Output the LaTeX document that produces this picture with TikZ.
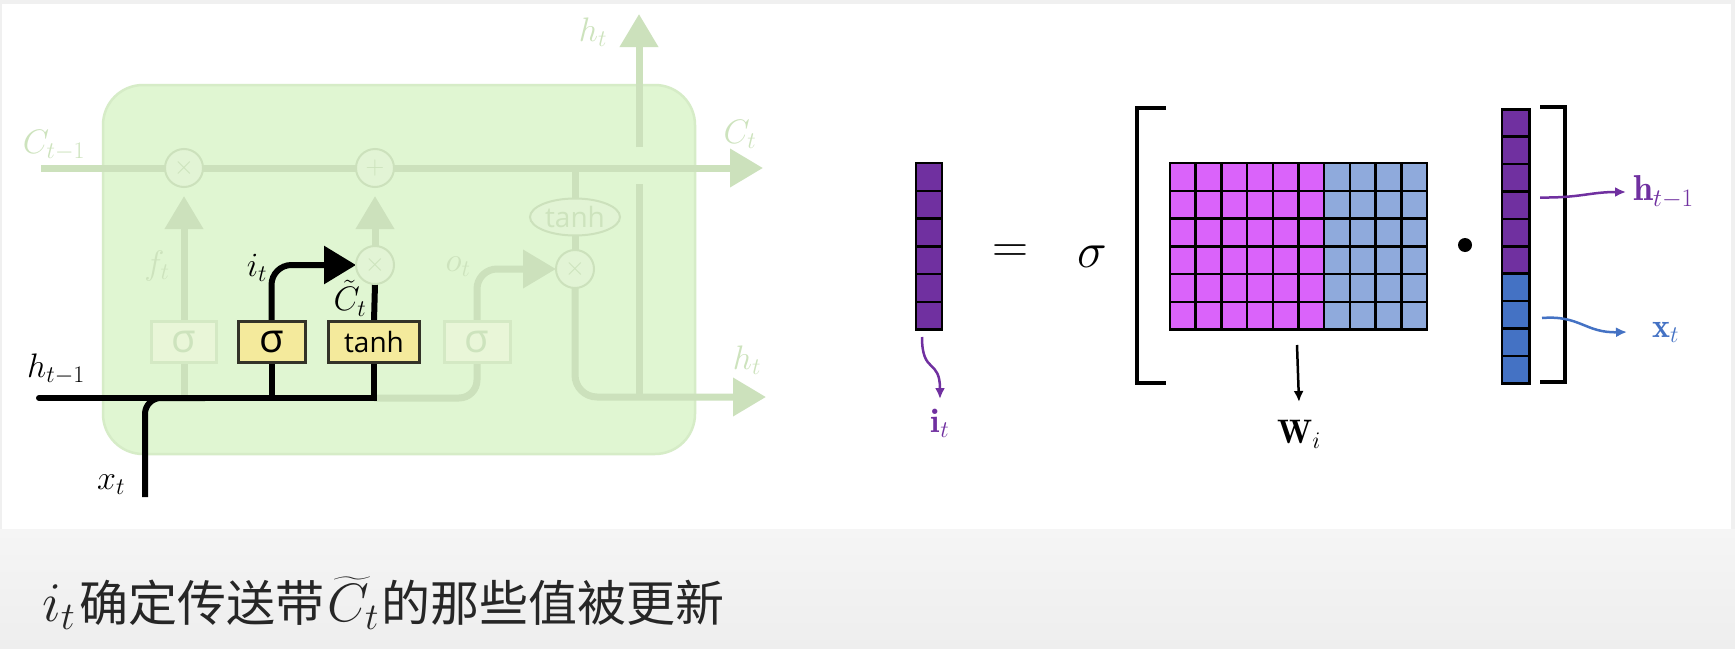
\RequirePackage{fix-cm}
\documentclass[tikz,border=0pt]{standalone}
\usepackage{amsmath}
\usepackage{fontspec}
\newfontfamily\cjk{Noto Sans CJK SC}
\newfontfamily\gatefont{Open Sans}
\usepackage{tikz}
\usetikzlibrary{shapes.geometric, arrows.meta, positioning}

\pgfdeclarelayer{back}
\pgfdeclarelayer{mid}
\pgfsetlayers{back,mid,main}

\definecolor{pagegray}{HTML}{F0F0F0}
\definecolor{bandtop}{HTML}{F5F5F5}
\definecolor{bandbottom}{HTML}{EEEEEE}
\definecolor{cellfill}{HTML}{E0F6D2}
\definecolor{cellline}{HTML}{D6ECC7}
\definecolor{fadeline}{HTML}{CCE1BC}
\definecolor{fadetext}{HTML}{CDE3BD}
\definecolor{opfill}{HTML}{E2F4D5}
\definecolor{fadegatefill}{HTML}{E9F6D8}
\definecolor{fadegateline}{HTML}{D4E9C4}
\definecolor{gatefill}{HTML}{F4EA9C}
\definecolor{gateline}{HTML}{333328}
\definecolor{vpurple}{HTML}{7030A0}
\definecolor{vblue}{HTML}{4472C4}
\definecolor{mpink}{HTML}{DA63FA}
\definecolor{mblue}{HTML}{8FAADC}
\definecolor{capgray}{HTML}{262626}

\newcommand{\fsz}[1]{\fontsize{#1}{#1}\selectfont}

\begin{document}
\begin{tikzpicture}[x=1pt, y=-1pt,
                faint/.style={draw=fadeline, line width=7pt},
                hot/.style={draw=black, line width=6pt},
                bigtip/.style={-{Triangle[length=33pt, width=37pt]}},
                hottip/.style={-{Triangle[length=32pt, width=37pt]}},
                op/.style={circle, draw=fadeline, line width=2pt, fill=opfill, minimum size=38pt, inner sep=0pt, outer sep=0pt, text=fadetext, font=\fsz{26}},
                gate/.style={draw=gateline, line width=3pt, fill=gatefill, minimum height=41pt, inner sep=0pt, outer sep=0pt, font=\gatefont\fsz{28}},
                fadegate/.style={gate, draw=fadegateline, fill=fadegatefill, text=fadetext},
                siggate/.style={font=\gatefont\fsz{40}},
                fadelab/.style={text=fadetext, inner sep=0pt, font=\fsz{34}},
                hotlab/.style={text=black, inner sep=0pt, font=\fsz{34}},
                mathlab/.style={inner sep=0pt, font=\fsz{34}},
                cellsq/.style={draw=black, line width=2.5pt},
                bracket/.style={draw=black, line width=3.5pt},
                thinarrow/.style={line width=2.5pt, -{Latex[length=11pt, width=10pt]}}
            ]
    \useasboundingbox (0,0) rectangle (1735,648);

    % Background
    \begin{pgfonlayer}{back}
        \fill[pagegray] (0,0) rectangle (1735,648);
        \fill[white] (2,4) rectangle (1731,529);
        \shade[top color=bandtop, bottom color=bandbottom] (0,529) rectangle (1735,648);
        \draw[draw=cellline, fill=cellfill, line width=2.5pt, rounded corners=40pt] (103,85) rectangle (695,454);
    \end{pgfonlayer}

    % Nodes
    \node[op] (fmul) at (184,168) {$\times$};
    \node[op] (cadd) at (375,168) {$+$};
    \node[op] (imul) at (375,265) {$\times$};
    \node[op] (omul) at (575,269) {$\times$};
    \node[op, ellipse, minimum width=90pt, minimum height=37pt, font=\gatefont\fsz{28}] (otanh) at (575,217) {tanh};

    \node[fadegate, siggate, minimum width=65pt] (fsig) at (184,341.5) {σ};
    \node[gate, siggate, minimum width=67pt] (isig) at (271.5,341.5) {σ};
    \node[gate, minimum width=91pt] (ctanh) at (374,341.5) {tanh};
    \node[fadegate, siggate, minimum width=66pt] (osig) at (477,341.5) {σ};

    \coordinate (cin) at (41,168);
    \coordinate (cout) at (763,168);
    \coordinate (hin) at (39,398);
    \coordinate (xin) at (145,497);
    \coordinate (xjoin) at (205,398);
    \coordinate (hout) at (766,397);
    \coordinate (hup) at (639,14);
    \coordinate (gapbelow) at (639,184);
    \coordinate (gapabove) at (639,147);

    % Arrows
    \begin{pgfonlayer}{mid}
        \draw[faint, bigtip] (cin) -- (cout);
        \draw[faint] (fsig.south |- hin) -- (fsig.south);
        \draw[faint, bigtip, shorten >=9pt] (fsig.north) -- (fmul.south);
        \draw[faint, bigtip, shorten >=9pt] (imul.north) -- (cadd.south);
        \draw[faint, rounded corners=18pt] (ctanh.south |- hin) -| (osig.south);
        \draw[faint, bigtip, rounded corners=20pt] (osig.north) |- (omul.west);
        \draw[faint] (otanh.north |- cin) -- (otanh.north);
        \draw[faint] (otanh.south) -- (omul.north);
        \draw[faint, bigtip, rounded corners=22pt] (omul.south) |- (hout);
        \draw[faint] (hup |- hout) -- (gapbelow);
        \draw[faint, bigtip] (gapabove) -- (hup);

        % input gate path
        \draw[hot, line cap=round] (hin) -| (ctanh.south);
        \draw[hot, rounded corners=16pt] (xin) |- (xjoin);
        \draw[hot] (isig.south |- hin) -- (isig.south);
        \draw[hot, hottip, rounded corners=20pt] (isig.north) |- (imul.west);
        \draw[hot] (ctanh.north) -- (imul.south);
    \end{pgfonlayer}

    % Labels of the cell
    \node[fadelab] (lcprev) at (54,145) {$C_{t-1}$};
    \node[fadelab] (lcnext) at (740,134) {$C_t$};
    \node[fadelab] (lhup) at (593,32) {$h_t$};
    \node[fadelab] (lhout) at (747,360) {$h_t$};
    \node[fadelab] (lf) at (157,266) {$f_t$};
    \node[fadelab] (lo) at (458,267) {$o_t$};
    \node[hotlab] (li) at (257,268) {$i_t$};
    \node[hotlab] (lct) at (350,298) {$\tilde{C}_t$};
    \node[hotlab] (lhprev) at (56,369) {$h_{t-1}$};
    \node[hotlab] (lx) at (111,485) {$x_t$};

    % Vector i_t
    \foreach \r in {0,...,5}
        \draw[cellsq, fill=vpurple] (916,{163+\r*27.77}) rectangle ++(26,27.77);

    % Matrix W_i
    \foreach \c in {0,...,5}
        \foreach \r in {0,...,5}
            \draw[cellsq, fill=mpink] ({1170+\c*25.7},{163+\r*27.77}) rectangle ++(25.7,27.77);
    \foreach \c in {6,...,9}
        \foreach \r in {0,...,5}
            \draw[cellsq, fill=mblue] ({1170+\c*25.7},{163+\r*27.77}) rectangle ++(25.7,27.77);

    % Vector [h_{t-1}, x_t]
    \foreach \r in {0,...,5}
        \draw[cellsq, fill=vpurple] (1502,{109.3+\r*27.4}) rectangle ++(27.3,27.4);
    \foreach \r in {6,...,9}
        \draw[cellsq, fill=vblue] (1502,{109.3+\r*27.4}) rectangle ++(27.3,27.4);

    % Brackets
    \draw[bracket] (1166,108) -| (1137,383) -- (1166,383);
    \draw[bracket] (1540,107) -| (1565,382) -- (1540,382);

    % Formula symbols
    \node[mathlab, font=\fsz{50}] (eq) at (1010,254) {$=$};
    \node[mathlab, font=\fsz{50}] (sig) at (1092,257) {$\sigma$};
    \node[circle, fill=black, minimum size=14pt, inner sep=0pt] (dotop) at (1465,245) {};

    \coordinate (itail) at (922,337);
    \coordinate (ihead) at (940,399);
    \coordinate (wtail) at (1297,345);
    \coordinate (whead) at (1299,402);
    \coordinate (htail) at (1540,197.5);
    \coordinate (hhead) at (1626,192);
    \coordinate (xtail) at (1542,318);
    \coordinate (xhead) at (1627,332);

    \node[mathlab, text=vpurple, below=10pt of ihead] (itlab) {$\mathbf{i}_t$};
    \node[mathlab, below=18pt of whead] (wlab) {$\mathbf{W}_i$};
    \node[mathlab, font=\fsz{36}, text=vpurple, right=7pt of hhead] (hlab) {$\mathbf{h}_{t-1}$};
    \node[mathlab, text=vblue, right=25pt of xhead] (xlab) {$\mathbf{x}_t$};

    \draw[thinarrow, draw=vpurple] (itail) .. controls (922,375) and (940,358) .. (ihead);
    \draw[thinarrow, draw=black] (wtail) -- (whead);
    \draw[thinarrow, draw=vpurple] (htail) .. controls (1580,198) and (1590,192) .. (hhead);
    \draw[thinarrow, draw=vblue] (xtail) .. controls (1580,315) and (1585,333) .. (xhead);

    % Caption
    \node[anchor=west, inner sep=0pt, font=\fsz{49}, text=capgray] (caption) at (42,603)
        {{\fsz{56}$i_t$}\hspace{4pt}\cjk 确定传送带\hspace{3pt}{\fsz{54}$\widetilde{C}_t$}\hspace{3pt}的那些值被更新};
\end{tikzpicture}
\end{document}
